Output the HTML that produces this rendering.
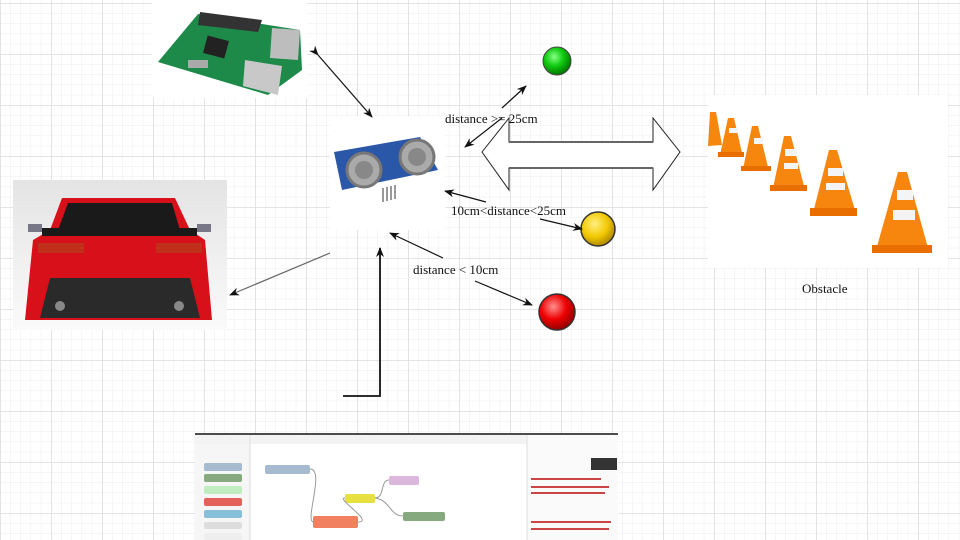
<!DOCTYPE html>
<html><head><meta charset="utf-8"><style>
html,body{margin:0;padding:0;width:960px;height:540px;overflow:hidden;background:#fff}
svg{display:block}
text{font-family:"Liberation Serif",serif;font-size:13px;fill:#111}
</style></head><body>
<svg width="960" height="540" viewBox="0 0 960 540">
<defs>
<pattern id="minor" width="10.2" height="10.2" patternUnits="userSpaceOnUse" x="0" y="3">
<path d="M0 0H10.2M0 0V10.2" stroke="#ececec" stroke-width="1" fill="none"/></pattern>
<pattern id="major" width="51" height="51" patternUnits="userSpaceOnUse" x="0" y="3">
<path d="M0 0H51M0 0V51" stroke="#d4d4d4" stroke-width="1.3" fill="none"/></pattern>
<marker id="ar" markerWidth="10" markerHeight="10" refX="9" refY="5" orient="auto" markerUnits="userSpaceOnUse">
<path d="M0,1 L10,5 L0,9 L3,5 Z" fill="#111"/></marker>
<radialGradient id="gG" cx="40%" cy="35%" r="65%"><stop offset="0" stop-color="#8f8"/><stop offset="0.5" stop-color="#1c1"/><stop offset="1" stop-color="#070"/></radialGradient>
<radialGradient id="gY" cx="40%" cy="35%" r="65%"><stop offset="0" stop-color="#ffef80"/><stop offset="0.6" stop-color="#f2c800"/><stop offset="1" stop-color="#b08a00"/></radialGradient>
<radialGradient id="gR" cx="40%" cy="35%" r="65%"><stop offset="0" stop-color="#ff9090"/><stop offset="0.55" stop-color="#e00"/><stop offset="1" stop-color="#900"/></radialGradient>
<linearGradient id="carbg" x1="0" y1="0" x2="0" y2="1"><stop offset="0" stop-color="#e4e4e4"/><stop offset="1" stop-color="#fafafa"/></linearGradient>
</defs>
<rect width="960" height="540" fill="url(#minor)"/>
<rect width="960" height="540" fill="url(#major)"/>

<!-- Raspberry Pi -->
<rect x="152" y="0" width="155" height="98" fill="#fff"/>
<polygon points="158,62 198,14 300,30 302,70 268,95" fill="#1e8a4a"/>
<polygon points="200,12 262,20 258,32 198,25" fill="#333"/>
<rect x="205" y="38" width="22" height="18" fill="#222" transform="rotate(15 216 47)"/>
<polygon points="245,60 282,66 278,95 243,86" fill="#c8c8c8"/>
<polygon points="272,28 300,30 298,60 270,58" fill="#bdbdbd"/>
<rect x="188" y="60" width="20" height="8" fill="#aaa"/>

<!-- Car -->
<rect x="13" y="180" width="214" height="150" fill="url(#carbg)"/>
<path d="M62,198 L175,198 L190,230 L205,240 L212,320 L25,320 L33,240 L50,230 Z" fill="#d8101a"/>
<path d="M68,203 L172,203 L180,230 L58,230 Z" fill="#1a1a1a"/>
<rect x="42" y="228" width="155" height="8" fill="#1a1a1a"/>
<rect x="38" y="243" width="46" height="10" fill="#c0301a"/>
<rect x="156" y="243" width="46" height="10" fill="#c0301a"/>
<path d="M50,278 L190,278 L200,318 L40,318 Z" fill="#2a2a2a"/>
<circle cx="60" cy="306" r="5" fill="#888"/><circle cx="179" cy="306" r="5" fill="#888"/>
<rect x="28" y="224" width="14" height="8" fill="#778"/><rect x="197" y="224" width="14" height="8" fill="#778"/>

<!-- Sensor -->
<rect x="330" y="116" width="115" height="114" fill="#fff"/>
<polygon points="334,152 420,137 438,170 342,190" fill="#2a57a8"/>
<circle cx="364" cy="170" r="17" fill="#aaa" stroke="#777" stroke-width="3"/>
<circle cx="364" cy="170" r="9" fill="#888"/>
<circle cx="417" cy="157" r="17" fill="#aaa" stroke="#777" stroke-width="3"/>
<circle cx="417" cy="157" r="9" fill="#888"/>
<path d="M383,188 v14 M387,187 v14 M391,186 v14 M395,185 v14" stroke="#999" stroke-width="2"/>

<!-- Obstacle -->
<rect x="708" y="95" width="240" height="173" fill="#fff"/>
<g fill="#f7860f">
<polygon points="710,112 716,112 722,145 708,146"/>
<polygon points="728,118 734,118 742,153 720,155"/>
<polygon points="752,126 758,126 768,167 743,169"/>
<polygon points="784,136 791,136 804,186 773,188"/>
<polygon points="829,150 837,150 855,210 813,213"/>
<polygon points="898,172 907,172 928,248 876,250"/>
</g>
<g fill="#e86e00">
<rect x="718" y="152" width="26" height="5"/><rect x="741" y="166" width="30" height="5"/>
<rect x="770" y="185" width="37" height="6"/><rect x="810" y="208" width="47" height="8"/>
<rect x="872" y="245" width="60" height="8"/></g>
<g fill="#f4f4f4">
<rect x="729" y="128" width="9" height="5"/><rect x="754" y="138" width="9" height="6"/>
<rect x="785" y="149" width="12" height="7"/><rect x="784" y="163" width="14" height="6"/>
<rect x="828" y="168" width="15" height="8"/><rect x="826" y="183" width="19" height="7"/>
<rect x="897" y="190" width="16" height="10"/><rect x="893" y="210" width="22" height="10"/>
</g>
<text x="802" y="293" font-size="14">Obstacle</text>

<!-- Lights -->
<circle cx="557" cy="61" r="14" fill="url(#gG)" stroke="#444" stroke-width="1"/>
<circle cx="598" cy="229" r="17" fill="url(#gY)" stroke="#333" stroke-width="1.5"/>
<circle cx="557" cy="312" r="18" fill="url(#gR)" stroke="#333" stroke-width="1.5"/>

<!-- Big double arrow -->
<path d="M482,152 L509,118 L509,142 L653,142 L653,118 L680,152 L653,190 L653,168 L509,168 L509,190 Z" fill="#fff" stroke="#222" stroke-width="1"/>
<rect x="510" y="143" width="142" height="24" fill="#fff"/>
<path d="M509,142 H653 M509,168 H653" stroke="#666" stroke-width="2"/>

<!-- connectors -->
<g stroke="#111" stroke-width="1.2" fill="none">
<line x1="318" y1="55" x2="372" y2="117" marker-start="url(#ar)" marker-end="url(#ar)"/>
<line x1="502" y1="118" x2="465" y2="147" marker-end="url(#ar)"/>
<line x1="502" y1="108" x2="526" y2="86" marker-end="url(#ar)"/>
<line x1="486" y1="202" x2="445" y2="191" marker-end="url(#ar)"/>
<line x1="540" y1="219" x2="582" y2="229" marker-end="url(#ar)"/>
<line x1="443" y1="258" x2="390" y2="233" marker-end="url(#ar)"/>
<line x1="475" y1="281" x2="532" y2="305" marker-end="url(#ar)"/>
<line x1="330" y1="253" x2="230" y2="295" stroke="#666" marker-end="url(#ar)"/>
<path d="M343,396 H380 V248" stroke-width="1.8" marker-end="url(#ar)"/>
</g>
<text x="445" y="123">distance &gt;= 25cm</text>
<text x="451" y="215">10cm&lt;distance&lt;25cm</text>
<text x="413" y="274">distance &lt; 10cm</text>

<!-- Node-RED screenshot -->
<rect x="195" y="434" width="423" height="106" fill="#fff"/>
<line x1="195" y1="434" x2="618" y2="434" stroke="#111" stroke-width="1.5"/>
<rect x="195" y="435" width="423" height="9" fill="#f3f3f3"/>
<rect x="195" y="444" width="55" height="96" fill="#f6f6f6"/>
<rect x="527" y="435" width="91" height="105" fill="#fafafa"/>
<g stroke="#ddd"><line x1="250" y1="435" x2="250" y2="540"/><line x1="527" y1="435" x2="527" y2="540"/></g>
<rect x="204" y="463" width="38" height="8" rx="2" fill="#a6bbcf"/>
<rect x="204" y="474" width="38" height="8" rx="2" fill="#87a980"/>
<rect x="204" y="486" width="38" height="8" rx="2" fill="#c0edc0"/>
<rect x="204" y="498" width="38" height="8" rx="2" fill="#e2625a"/>
<rect x="204" y="510" width="38" height="8" rx="2" fill="#87bfd8"/>
<rect x="204" y="522" width="38" height="7" rx="2" fill="#ddd"/>
<rect x="204" y="533" width="38" height="7" rx="2" fill="#eee"/>
<rect x="265" y="465" width="45" height="9" rx="2" fill="#a6bbcf"/>
<rect x="389" y="476" width="30" height="9" rx="2" fill="#dbb6dd"/>
<rect x="345" y="494" width="30" height="9" rx="2" fill="#e6e040"/>
<rect x="403" y="512" width="42" height="9" rx="2" fill="#87a980"/>
<rect x="313" y="516" width="45" height="12" rx="2" fill="#f08060"/>
<g stroke="#999" fill="none" stroke-width="1">
<path d="M310,469 C325,469 305,520 313,522"/><path d="M358,522 C375,522 335,498 345,498"/>
<path d="M375,498 C385,498 380,480 389,480"/><path d="M375,498 C390,500 390,516 403,516"/></g>
<rect x="591" y="458" width="26" height="12" fill="#333"/>
<g fill="#c44"><rect x="531" y="478" width="70" height="2"/><rect x="531" y="486" width="78" height="2"/><rect x="531" y="492" width="74" height="2"/><rect x="531" y="521" width="80" height="2"/><rect x="531" y="528" width="78" height="2"/></g>
</svg>
</body></html>
